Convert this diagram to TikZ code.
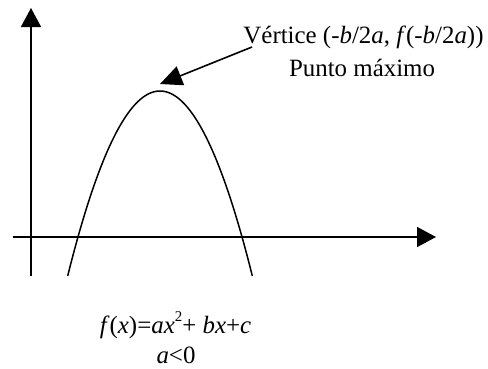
\documentclass[tikz,border=0pt]{standalone}
\usepackage{fontspec}
\setmainfont{Liberation Serif}
\usetikzlibrary{arrows.meta}
\begin{document}
\begin{tikzpicture}[x=1bp,y=-1bp,
  axis/.style={line width=1.6bp,-{Triangle[length=19bp,width=20bp]}},
  curve/.style={line width=1.5bp},
  pointer/.style={line width=1.6bp,-{Triangle[length=22bp,width=20bp]}},
  lbl/.style={inner sep=0pt,anchor=base,font=\fontsize{25}{30}\selectfont}]
\useasboundingbox (0,0) rectangle (488,368);
% axes
\coordinate (ybot) at (31,276);
\coordinate (ytop) at (31,8);
\coordinate (xl) at (13,237);
\coordinate (xr) at (436,237);
\draw[axis] (ybot) -- (ytop);
\draw[axis] (xl) -- (xr);
% parabola
\draw[curve] plot[domain=67.7:252.3,samples=90,smooth] (\x,{91+0.0217*(\x-160)*(\x-160)});
% labels
\node[lbl] (vert) at (363.5,43) {Vértice (-\textit{b}/2\textit{a}, \textit{f}(-\textit{b}/2\textit{a}))};
\node[lbl] (max) at (362,76) {Punto máximo};
\node[lbl] (func) at (175.5,333) {\textit{f}(\textit{x})=\textit{ax}\raisebox{0.45em}{\fontsize{15}{15}\selectfont 2}+ \textit{bx}+\textit{c}};
\node[lbl] (cond) at (176,363) {\textit{a}<0};
% pointer
\coordinate (pstart) at (252,47);
\coordinate (pend) at (160,84);
\draw[pointer] (pstart) -- (pend);
\end{tikzpicture}
\end{document}
